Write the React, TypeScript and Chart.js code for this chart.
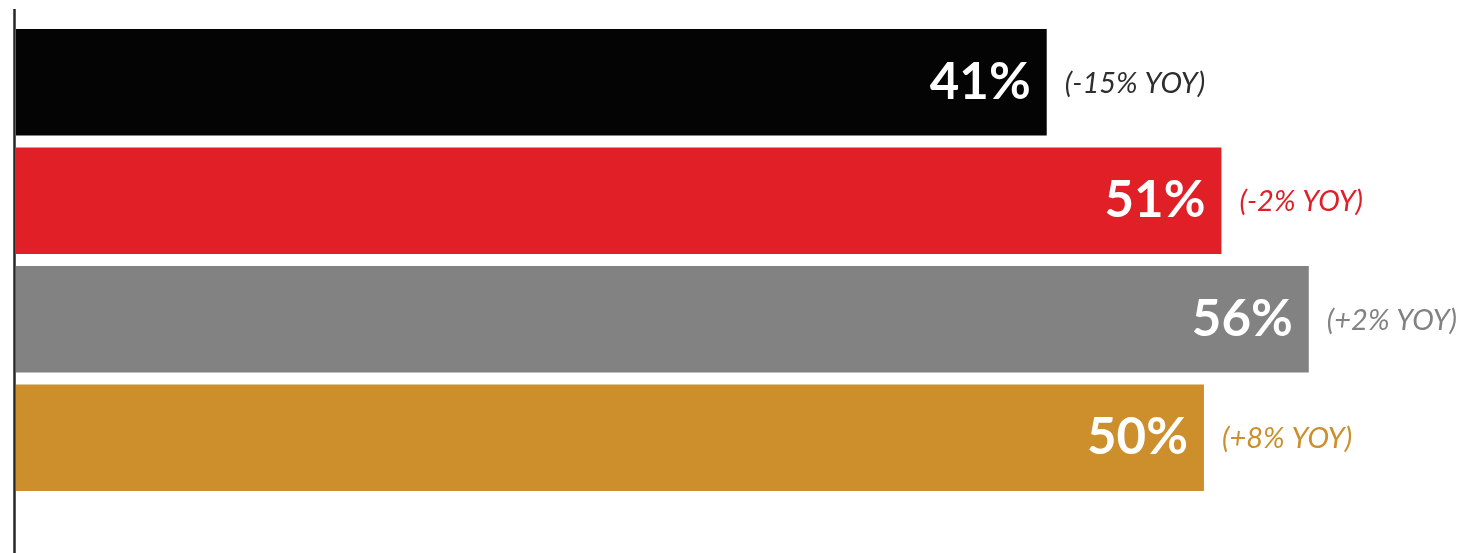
import React, { useEffect, useRef } from "react";
import { Chart, registerables } from "chart.js";

Chart.register(...registerables);

// Survey results per group, with year-over-year change
const categories = ["Group A", "Group B", "Group C", "Group D"];
const values = [41, 51, 56, 50];
const yoyLabels = ["(-15% YOY)", "(-2% YOY)", "(+2% YOY)", "(+8% YOY)"];

const barColors = ["#040404", "#e01f27", "#828282", "#cc8f2b"];
const yoyColors = ["#2e2e2e", "#e01f27", "#828282", "#cc8f2b"];

const AXIS_MIN = -18;
const AXIS_MAX = 65.4;

const labelPlugin = {
  id: "barLabels",
  afterDatasetsDraw(chart: any) {
    const ctx = chart.ctx;
    const meta = chart.getDatasetMeta(0);
    ctx.save();
    meta.data.forEach((bar: any, i: number) => {
      const end = bar.x;
      const cy = bar.y;
      ctx.textBaseline = "middle";
      ctx.font = "bold 51px Lato";
      ctx.fillStyle = "#ffffff";
      ctx.textAlign = "right";
      ctx.fillText(`${values[i]}%`, end - 16, cy);
      ctx.font = "italic 29px Lato";
      ctx.fillStyle = yoyColors[i];
      ctx.textAlign = "left";
      ctx.fillText(yoyLabels[i], end + 18, cy + 1);
    });
    ctx.restore();
  },
};

const axisLinePlugin = {
  id: "axisLine",
  afterDraw(chart: any) {
    const ctx = chart.ctx;
    ctx.save();
    ctx.strokeStyle = "#262626";
    ctx.lineWidth = 2.5;
    ctx.beginPath();
    ctx.moveTo(14.5, 9);
    ctx.lineTo(14.5, chart.height);
    ctx.stroke();
    ctx.restore();
  },
};

export default function App() {
  const canvasRef = useRef<HTMLCanvasElement | null>(null);

  useEffect(() => {
    document.body.style.margin = "0";
    const canvas = canvasRef.current;
    if (!canvas) return;
    const chart = new Chart(canvas, {
      type: "bar",
      data: {
        labels: categories,
        datasets: [
          {
            data: values,
            base: AXIS_MIN,
            backgroundColor: barColors,
            borderWidth: 0,
            barPercentage: 0.9,
            categoryPercentage: 1,
          } as any,
        ],
      },
      options: {
        indexAxis: "y",
        animation: false,
        responsive: false,
        maintainAspectRatio: false,
        layout: { padding: { left: 16, right: 0, top: 23, bottom: 56 } },
        plugins: {
          legend: { display: false },
          tooltip: { enabled: false },
        },
        scales: {
          x: { display: false, min: AXIS_MIN, max: AXIS_MAX },
          y: { display: false },
        },
      },
      plugins: [labelPlugin, axisLinePlugin],
    });
    return () => chart.destroy();
  }, []);

  return (
    <div style={{ width: 1473, height: 553, background: "#fff" }}>
      <canvas ref={canvasRef} width={1473} height={553} />
    </div>
  );
}
